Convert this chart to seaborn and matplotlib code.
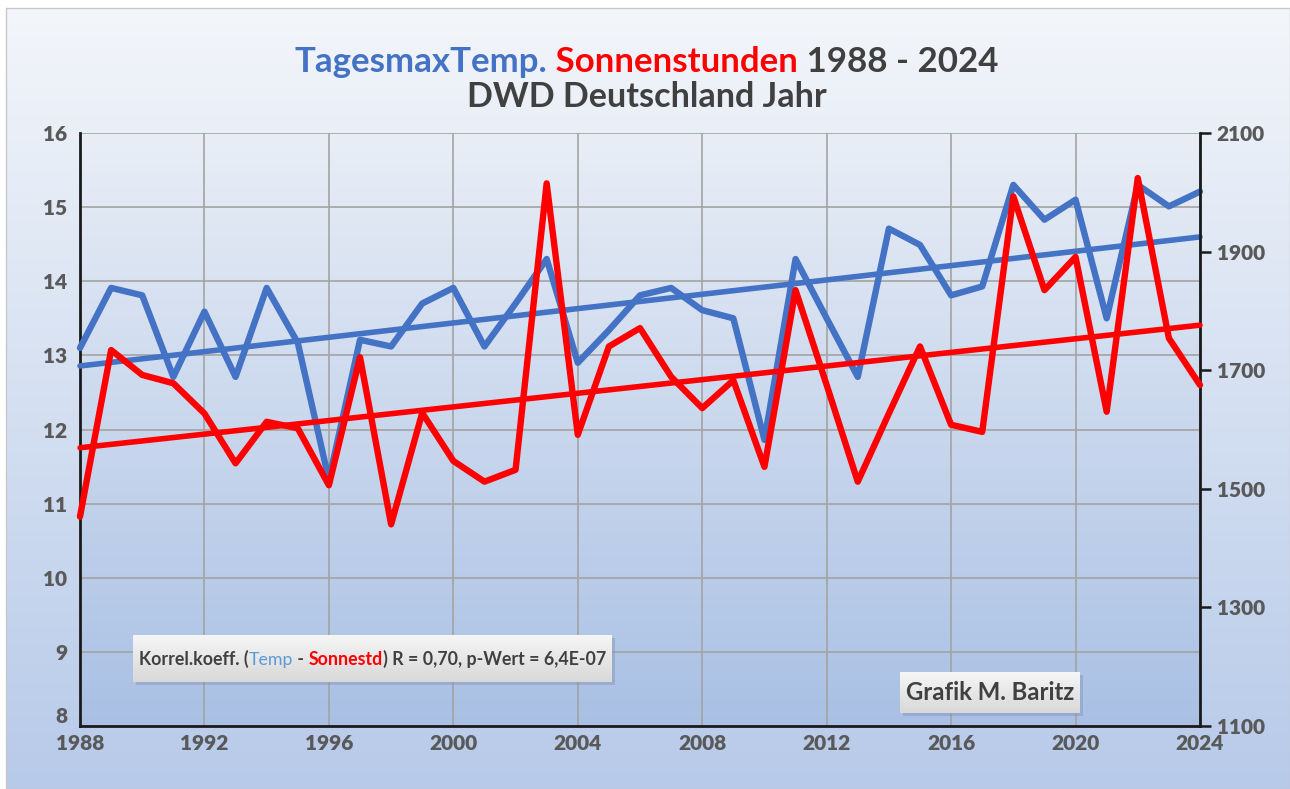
import numpy as np
import pandas as pd
import matplotlib
matplotlib.use('Agg')
import matplotlib.pyplot as plt
from matplotlib.colors import LinearSegmentedColormap
from matplotlib.patches import Rectangle
import seaborn as sns

# Jahreswerte DWD Deutschland
years = list(range(1988, 2025))
temp_max = [13.10, 13.91, 13.81, 12.71, 13.59, 12.71, 13.91, 13.17, 11.32, 13.21,
            13.12, 13.70, 13.91, 13.12, 13.70, 14.30, 12.90, 13.34, 13.81, 13.91,
            13.61, 13.50, 11.86, 14.30, 13.50, 12.71, 14.71, 14.49, 13.81, 13.93,
            15.30, 14.83, 15.10, 13.50, 15.30, 15.01, 15.21]
sun_hours = [1453, 1734, 1692, 1678, 1627, 1543, 1613, 1602, 1506, 1722,
             1440, 1628, 1547, 1512, 1532, 2015, 1591, 1740, 1771, 1689,
             1636, 1683, 1537, 1835, 1675, 1512, 1627, 1740, 1608, 1596,
             1993, 1835, 1891, 1630, 2024, 1754, 1675]
x_ticks = list(range(1988, 2025, 4))
left_ticks = list(range(8, 17))
right_ticks = list(range(1100, 2101, 200))

df = pd.DataFrame({'Jahr': years, 'Temp': temp_max, 'Sonne': sun_hours})

BLUE = '#4472C4'
RED = '#FF0000'
GRAY = '#404040'
TICKGRAY = '#595959'

sns.set_theme(style='white')
plt.rcParams['font.family'] = ['Lato', 'DejaVu Sans']
plt.rcParams['font.weight'] = 'bold'

W, H = 1290, 789
fig = plt.figure(figsize=(W / 100, H / 100), dpi=100, facecolor='white')


def fx(px):
    return px / W


def fy(py):
    return 1 - py / H


grad = np.linspace(0, 1, 256)[:, None]

# Hintergrund mit Verlauf
bg = fig.add_axes([fx(6), 0, 1 - fx(6), fy(8)])
bg.set_zorder(-1)
bg.imshow(grad, aspect='auto', extent=[0, 1, 0, 1],
          cmap=LinearSegmentedColormap.from_list('bg', ['#f3f6fa', '#b7cae9']))
bg.axis('off')
fig.patches.append(Rectangle((fx(6), 0), 1 - fx(6), fy(8), transform=fig.transFigure,
                             fill=False, edgecolor='#c8c8c8', lw=1, zorder=-0.5))

ax = fig.add_axes([fx(80), fy(726), fx(1200 - 80), (726 - 133) / H])
ax.imshow(grad, aspect='auto', extent=[1988, 2024, 8, 16], zorder=0,
          cmap=LinearSegmentedColormap.from_list('pl', ['#e9eef6', '#a9c0e4']))

sns.lineplot(data=df, x='Jahr', y='Temp', ax=ax, color=BLUE, linewidth=4.6,
             solid_joinstyle='round', clip_on=False, zorder=3)
sns.regplot(data=df, x='Jahr', y='Temp', ax=ax, scatter=False, ci=None, truncate=True,
            line_kws=dict(color=BLUE, lw=4.0, zorder=3, clip_on=False))

ax2 = ax.twinx()
sns.lineplot(data=df, x='Jahr', y='Sonne', ax=ax2, color=RED, linewidth=4.6,
             solid_joinstyle='round', clip_on=False, zorder=3)
sns.regplot(data=df, x='Jahr', y='Sonne', ax=ax2, scatter=False, ci=None, truncate=True,
            line_kws=dict(color=RED, lw=4.0, zorder=3, clip_on=False))

ax.set_xlim(1988, 2024)
ax.set_ylim(8, 16)
ax2.set_ylim(1100, 2100)
ax.set_xticks(x_ticks)
ax.set_yticks(left_ticks)
ax2.set_yticks(right_ticks)
ax.set_xlabel('')
ax.set_ylabel('')
ax2.set_ylabel('')
ax.set_axisbelow(True)
ax.grid(True, color='#a3a3a3', lw=1.2)
ax2.grid(False)

for s in ['top', 'right']:
    ax.spines[s].set_visible(False)
for s in ['left', 'bottom']:
    ax.spines[s].set_color('#1a1a1a')
    ax.spines[s].set_linewidth(2)
for s in ['top', 'left', 'bottom']:
    ax2.spines[s].set_visible(False)
ax2.spines['right'].set_color('#1a1a1a')
ax2.spines['right'].set_linewidth(2)

ax.tick_params(axis='y', length=0, labelsize=15, labelcolor=TICKGRAY, pad=9)
ax.tick_params(axis='x', length=0, labelsize=15, labelcolor=TICKGRAY, pad=6)
ax2.tick_params(axis='y', length=8, width=1.8, color='#1a1a1a', direction='out',
                labelsize=15, labelcolor=TICKGRAY, pad=4)
for lbl in ax.get_xticklabels() + ax.get_yticklabels() + ax2.get_yticklabels():
    lbl.set_fontweight('heavy')
# "8" sitzt wie im Original etwas hoeher, ueber der 1988
ax.get_yticklabels()[0].set_verticalalignment('bottom')

renderer = fig.canvas.get_renderer()


def text_width(s, size, weight):
    t = fig.text(0, 0, s + 'x', fontsize=size, fontweight=weight)
    w1 = t.get_window_extent(renderer).width
    t.set_text('x')
    w2 = t.get_window_extent(renderer).width
    t.remove()
    return w1 - w2


def rich_text(parts, x, y, width, ha='left'):
    # mehrfarbiger Text, auf Breite (Pixel) eingepasst
    base = sum(text_width(s, 10, wt) for s, c, wt in parts)
    size = 10 * width / base
    x0 = x - width / 2 if ha == 'center' else x
    for s, c, wt in parts:
        fig.text(fx(x0), fy(y), s, fontsize=size, fontweight=wt, color=c,
                 ha='left', va='baseline', zorder=5)
        x0 += text_width(s, size, wt)


def label_box(x0, y0, x1, y1):
    fig.patches.append(Rectangle((fx(x0 + 3), fy(y1 + 3)), fx(x1 - x0), (y1 - y0) / H,
                                 transform=fig.transFigure, facecolor='#7f93b5',
                                 alpha=0.45, edgecolor='none', zorder=1))
    bax = fig.add_axes([fx(x0), fy(y1), fx(x1 - x0), (y1 - y0) / H])
    bax.set_zorder(2)
    bax.imshow(grad, aspect='auto', extent=[0, 1, 0, 1],
               cmap=LinearSegmentedColormap.from_list('bx', ['#f6f6f6', '#d8d8d8']))
    bax.axis('off')


# Titel
rich_text([('TagesmaxTemp.', BLUE, 'bold'),
           (' Sonnenstunden', RED, 'bold'),
           (' 1988 - 2024', GRAY, 'bold')], 648, 72, 707, ha='center')
rich_text([('DWD Deutschland Jahr', GRAY, 'bold')], 648, 107, 361, ha='center')

# Textfelder
label_box(133, 635, 612, 682)
rich_text([('Korrel.koeff. (', GRAY, 'bold'),
           ('Temp', '#5B9BD5', 'normal'),
           (' - ', GRAY, 'bold'),
           ('Sonnestd', RED, 'bold'),
           (') R = 0,70, p-Wert = 6,4E-07', GRAY, 'bold')], 139, 665, 466)

label_box(900, 672, 1080, 713)
rich_text([('Grafik M. Baritz', GRAY, 'bold')], 906, 700, 168)

fig.savefig('out.png', dpi=100)
